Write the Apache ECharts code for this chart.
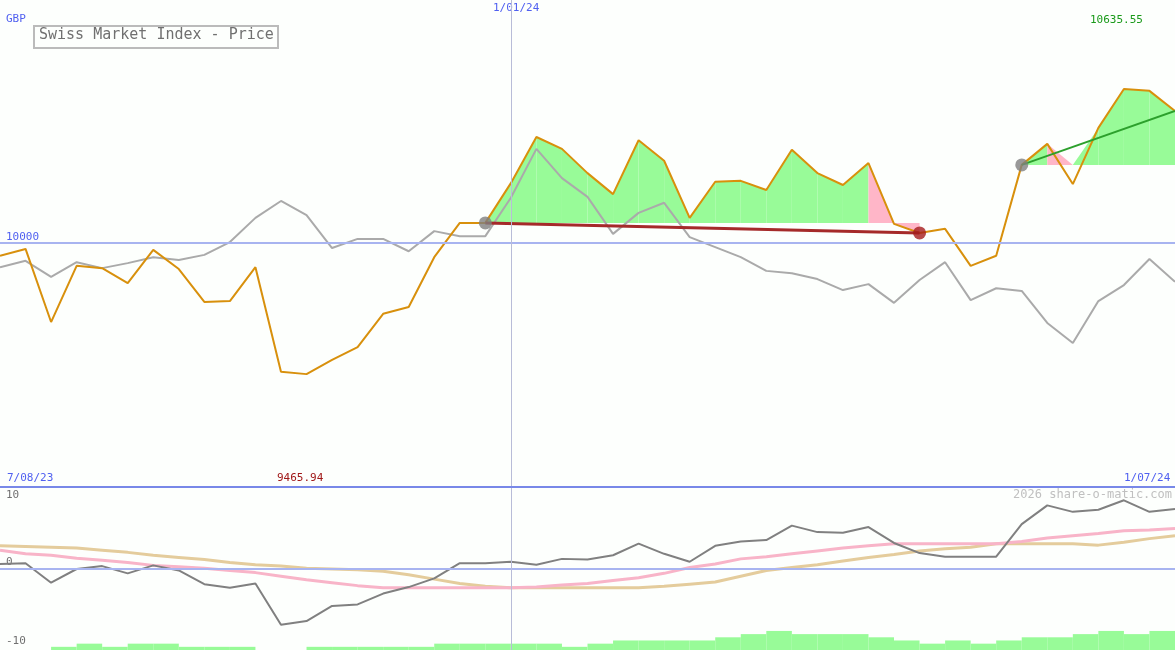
<!DOCTYPE html>
<html><head><meta charset="utf-8">
<script src="https://cdn.jsdelivr.net/npm/echarts@6/dist/echarts.min.js"></script>
<style>html,body{margin:0;padding:0;background:#fdfffd}#c{width:1175px;height:650px}</style>
</head><body><div id="c"></div>
<script>
const categories = Array.from({length:47},(_,i)=>'w'+i);
const price = [9972,9987,9827,9950,9945,9912,9985,9943,9871,9873,9947,9718,9713,9744,9772,9845,9860,9969,10044,10044,
10131,10232,10206,10153,10107,10225,10180,10055,10134,10136,10116,10204,10153,10127,10175,10042,10022,10031,9950,9972,
10171,10217,10129,10252,10337,10333,10289];
const compare = [9947,9961,9926,9958,9945,9956,9969,9963,9974,10002,10055,10092,10061,9989,10009,10009,9982,10026,10015,10015,
10099,10206,10142,10101,10020,10066,10088,10013,9991,9969,9939,9934,9921,9897,9910,9869,9919,9958,9875,9901,
9895,9825,9781,9873,9908,9965,9915];
const osc = [0.7,0.8,-1.9,0,0.4,-0.6,0.5,-0.2,-2.1,-2.6,-2.0,-7.7,-7.2,-5.1,-4.9,-3.4,-2.5,-1.3,0.8,0.8,
1.0,0.6,1.4,1.3,1.9,3.5,2.1,1.0,3.2,3.8,4.0,6.0,5.1,5.0,5.8,3.6,2.2,1.7,1.7,1.7,
6.2,8.8,7.9,8.2,9.5,7.9,8.3];
const oscFast = [2.6,2.1,1.9,1.5,1.2,0.9,0.5,0.3,0.1,-0.2,-0.5,-1.0,-1.5,-1.9,-2.3,-2.6,-2.6,-2.6,-2.6,-2.6,
-2.6,-2.5,-2.2,-2.0,-1.6,-1.2,-0.6,0.2,0.7,1.4,1.7,2.1,2.5,2.9,3.2,3.5,3.5,3.5,3.5,3.5,
3.8,4.3,4.6,4.9,5.3,5.4,5.6];
const oscSlow = [3.2,3.1,3.0,2.9,2.6,2.3,1.9,1.6,1.3,0.9,0.6,0.4,0.1,0,-0.1,-0.3,-0.8,-1.4,-2.0,-2.4,
-2.6,-2.6,-2.6,-2.6,-2.6,-2.6,-2.4,-2.1,-1.8,-1.0,-0.2,0.2,0.6,1.1,1.6,2.0,2.5,2.8,3.0,3.5,
3.5,3.5,3.5,3.3,3.7,4.2,4.6];
const volume = [0,0,1,2,1,2,2,1,1,1,0,0,1,1,1,1,1,2,2,2,2,2,1,2,3,3,3,3,4,5,6,5,5,5,4,3,2,3,2,3,4,4,5,6,5,6];
const volCats = volume.map((_,i)=>'v'+i);
const trend1 = {from:19, to:36, v0:10044, v1:10022};
const trend2 = {from:40, to:46, v0:10171, v1:10289};
const pinkSegments = [34,35,41];
const markIdx = 20;
const yMin = 9465.94, yMax = 10531.9;

const regions = [{a:19,b:36,base:price[19]},{a:40,b:46,base:price[40]}];
const segs = [];
regions.forEach(r=>{for(let i=r.a;i<r.b;i++) segs.push([i, r.base]);});
const G='#98fb98', K='#ffb6c8';

function fillRender(params, api){
  const i = api.value(0), base = api.value(1);
  const v0 = price[i]-base, v1 = price[i+1]-base;
  const P = (x,v)=>api.coord([x, v]);
  const polys = [];
  const forcePink = pinkSegments.indexOf(i) >= 0;
  const mk = (pts,col)=>polys.push({type:'polygon',shape:{points:pts},style:{fill:forcePink?K:col},silent:true});
  if (v0*v1 >= 0) {
    mk([P(i,base),P(i,price[i]),P(i+1,price[i+1]),P(i+1,base)], (v0+v1)>=0?G:K);
  } else {
    const t = v0/(v0-v1), xm = i+t;
    mk([P(i,base),P(i,price[i]),P(xm,base)], v0>0?G:K);
    mk([P(xm,base),P(i+1,price[i+1]),P(i+1,base)], v1>0?G:K);
  }
  return {type:'group',children:polys};
}

const txt = (x,y,t,c,extra)=>Object.assign({type:'text',left:x,top:y,style:{text:t,fill:c,font:'11px "DejaVu Sans Mono"'}},extra||{});
const chart = echarts.init(document.getElementById('c'));
chart.setOption({
  backgroundColor:'#fdfffd', animation:false,
  grid:[{left:0,right:0,top:0,height:487},{left:0,right:0,top:488,bottom:0},{left:0,right:0,top:488,bottom:0}],
  xAxis:[
    {type:'category',data:categories,boundaryGap:false,gridIndex:0,show:false},
    {type:'category',data:categories,boundaryGap:false,gridIndex:1,show:false},
    {type:'category',data:volCats,boundaryGap:true,gridIndex:2,show:false}
  ],
  yAxis:[
    {type:'value',min:yMin,max:yMax,gridIndex:0,show:false},
    {type:'value',min:-11.2,max:11.2,gridIndex:1,show:false},
    {type:'value',min:0,max:51,gridIndex:2,show:false}
  ],
  series:[
    {type:'custom',xAxisIndex:0,yAxisIndex:0,data:segs,renderItem:fillRender,z:1,silent:true},
    {type:'line',xAxisIndex:0,yAxisIndex:0,data:compare,symbol:'none',lineStyle:{color:'#aaaaaa',width:2},z:2,
     markLine:{silent:true,symbol:'none',label:{show:false},data:[
       {yAxis:10000,lineStyle:{color:'#a8b4f0',width:2,type:'solid'}},
       {xAxis:markIdx,lineStyle:{color:'#b8bcd8',width:1,type:'solid'}},
       {yAxis:yMin,lineStyle:{color:'#7888e8',width:2,type:'solid'}}]}},
    {type:'line',xAxisIndex:0,yAxisIndex:0,data:price,symbol:'none',lineStyle:{color:'#d8900c',width:2},z:3},
    {type:'line',xAxisIndex:0,yAxisIndex:0,data:[[trend1.from,trend1.v0],[trend1.to,trend1.v1]],symbol:'none',lineStyle:{color:'#a52a2a',width:3},z:4},
    {type:'line',xAxisIndex:0,yAxisIndex:0,data:[[trend2.from,trend2.v0],[trend2.to,trend2.v1]],symbol:'none',lineStyle:{color:'#2ca02c',width:2},z:4},
    {type:'scatter',xAxisIndex:0,yAxisIndex:0,symbolSize:13,z:5,data:[
      {value:[trend1.from,trend1.v0],itemStyle:{color:'#808080'}},
      {value:[trend2.from,trend2.v0],itemStyle:{color:'#808080'}},
      {value:[trend1.to,trend1.v1],itemStyle:{color:'#a51c1c'}}]},
    {type:'bar',xAxisIndex:2,yAxisIndex:2,data:volume,barWidth:'100%',barCategoryGap:'0%',itemStyle:{color:'#98fb98'},z:1},
    {type:'line',xAxisIndex:1,yAxisIndex:1,data:oscSlow,symbol:'none',lineStyle:{color:'#e4cc9c',width:3},z:2,
     markLine:{silent:true,symbol:'none',label:{show:false},data:[
       {yAxis:0,lineStyle:{color:'#a8b4f0',width:2,type:'solid'}},
       {xAxis:markIdx,lineStyle:{color:'#b8bcd8',width:1,type:'solid'}}]}},
    {type:'line',xAxisIndex:1,yAxisIndex:1,data:oscFast,symbol:'none',lineStyle:{color:'#f8b4c8',width:3},z:3},
    {type:'line',xAxisIndex:1,yAxisIndex:1,data:osc,symbol:'none',lineStyle:{color:'#808080',width:2},z:4}
  ],
  graphic:[
    txt(6,14,'GBP','#5060f0'),
    txt(493,3,'1/01/24','#5060f0'),
    txt(1090,15,'10635.55','#1a9a1a'),
    txt(6,232,'10000','#5060f0'),
    txt(7,473,'7/08/23','#5060f0'),
    txt(277,473,'9465.94','#a01818'),
    txt(1124,473,'1/07/24','#5060f0'),
    txt(6,490,'10','#707070'),
    txt(6,557,'0','#707070'),
    txt(6,636,'-10','#707070'),
    {type:'text',right:3,top:489,style:{text:'2026 share-o-matic.com',fill:'#c0c0c0',font:'12px "DejaVu Sans Mono"'}},
    {type:'rect',left:33,top:25,shape:{width:244,height:22},style:{fill:'#fdfffd',stroke:'#bbbbbb',lineWidth:2},z:10},
    {type:'text',left:39,top:28,z:11,style:{text:'Swiss Market Index - Price',fill:'#707070',font:'15px "DejaVu Sans Mono"'}}
  ]
});
</script></body></html>
